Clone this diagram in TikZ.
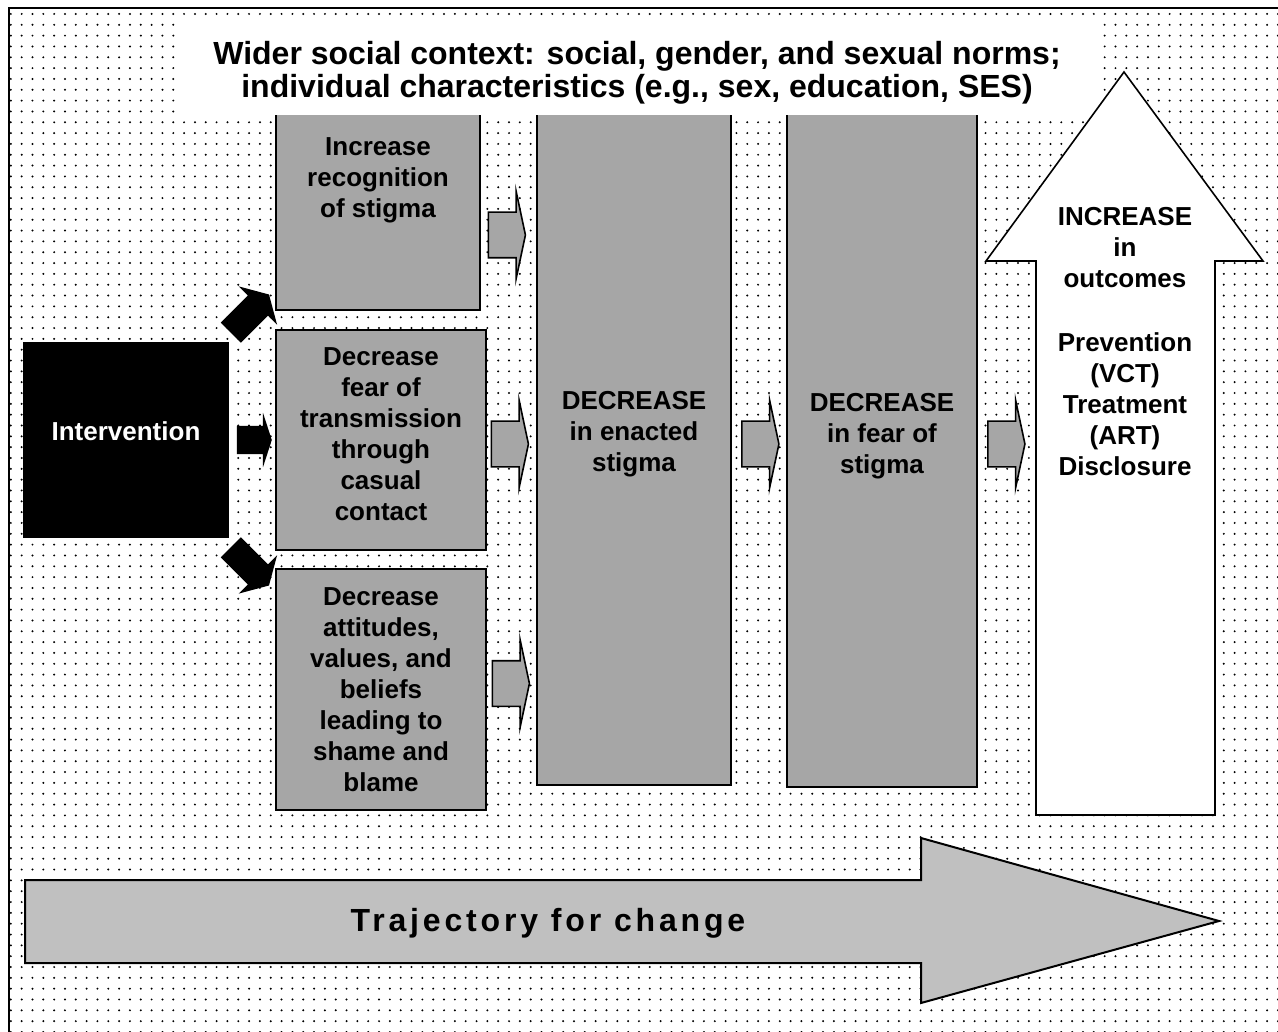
\documentclass[tikz,border=0pt]{standalone}
\usepackage{fontspec}
\setmainfont{Liberation Sans}
\newfontfamily\trackfont[LetterSpace=12]{Liberation Sans}
\usetikzlibrary{calc}
\usetikzlibrary{shapes.arrows}
\usetikzlibrary{patterns.meta}

\definecolor{boxgray}{RGB}{166,166,166}
\definecolor{trackgray}{RGB}{192,192,192}

\begin{document}
\begin{tikzpicture}
	[x=1pt,y=-1pt,
	box/.style={draw, line width=2pt, fill=boxgray, align=center, inner sep=0pt, font=\fontsize{26}{31}\selectfont\bfseries},
	gap arrow/.style={single arrow, draw, line width=1.6pt, fill=boxgray, inner xsep=0pt, inner ysep=22pt, single arrow head extend=21pt, single arrow tip angle=156, minimum height=37pt},
	push arrow/.style={single arrow, fill=black, inner xsep=0pt, inner ysep=14pt, single arrow head extend=13pt, single arrow tip angle=144, minimum height=35pt}]

	\useasboundingbox (0,0) rectangle (1278,1032);

	%Background
	\fill[pattern={Dots[distance=10.83pt,radius=1.1pt]}, pattern color=black] (9,8) rectangle (1278,1032);
	\draw[line width=2pt] (9,1032) -- (9,8) -- (1278,8);

	%Boxes
	\node[box, fill=black, text=white, minimum width=204pt, minimum height=194pt, text depth=18pt] (interv) at (126,440) {Intervention};
	\node[box, minimum width=204pt, minimum height=260pt] (recog) at (378,180) {Increase\\recognition\\of stigma};
	\node[box, minimum width=210pt, minimum height=220pt, text depth=12pt] (transm) at (381,440) {Decrease\\fear of\\transmission\\through\\casual\\contact};
	\node[box, minimum width=210pt, minimum height=241pt] (blame) at (381,689.5) {Decrease\\attitudes,\\values, and\\beliefs\\leading to\\shame and\\blame};
	\node[box, minimum width=194pt, minimum height=702pt] (enacted) at (634,434) {DECREASE\\in enacted\\stigma};
	\node[box, minimum width=190pt, minimum height=702pt] (fearStig) at (882,436) {DECREASE\\in fear of\\stigma};

	%Arrows
	\coordinate (upFoot) at (1036,815);
	\node[push arrow, rotate=45, minimum height=54pt, single arrow tip angle=120] (pushUp) at (247,316.5) {};
	\node[push arrow] (pushMid) at ($(interv.east)!0.5!(interv.east -| transm.west)$) {};
	\node[push arrow, rotate=-45, minimum height=54pt, single arrow tip angle=120] (pushDown) at (247,563.5) {};
	\node[gap arrow, xshift=-4pt, yshift=-55pt] (stepA) at ($(recog.east)!0.5!(recog.east -| enacted.west)$) {};
	\node[gap arrow, xshift=-4pt, yshift=-4pt] (stepB) at ($(transm.east)!0.5!(transm.east -| enacted.west)$) {};
	\node[gap arrow, xshift=-3pt, yshift=6pt] (stepC) at ($(blame.east)!0.5!(blame.east -| enacted.west)$) {};
	\node[gap arrow, xshift=-1pt, yshift=-10pt] (stepD) at ($(enacted.east)!0.5!(enacted.east -| fearStig.west)$) {};
	\node[gap arrow, xshift=-3pt, yshift=-8pt] (stepE) at ($(fearStig.east)!0.5!(fearStig.east -| upFoot)$) {};

	%Context
	\node[fill=white, minimum width=920pt, minimum height=98pt, align=center, text height=70pt, text depth=7pt, font=\fontsize{32}{33}\selectfont\bfseries] (context) at (637,66) {Wider social context: social, gender, and sexual norms;\\individual characteristics (e.g., sex, education, SES)};

	%Outcomes
	\draw[line width=1.6pt, fill=white] (upFoot) -- (1036,261) -- (986,261) -- (1124,72) -- (1263,261) -- (1215,261) -- (1215,815) -- cycle;
	\node[align=center, font=\fontsize{26}{31}\selectfont\bfseries] (outcomes) at (1125,342) {INCREASE\\in\\outcomes\\[33pt]Prevention\\(VCT)\\Treatment\\(ART)\\Disclosure};

	%Trajectory
	\draw[line width=2pt, fill=trackgray] (25,880) -- (921,880) -- (921,838) -- (1219,921) -- (921,1003) -- (921,963) -- (25,963) -- cycle;
	\node[font={\trackfont\bfseries\fontsize{32}{34}\selectfont}] (trajectory) at (548,923) {Trajectory for change};
\end{tikzpicture}
\end{document}
